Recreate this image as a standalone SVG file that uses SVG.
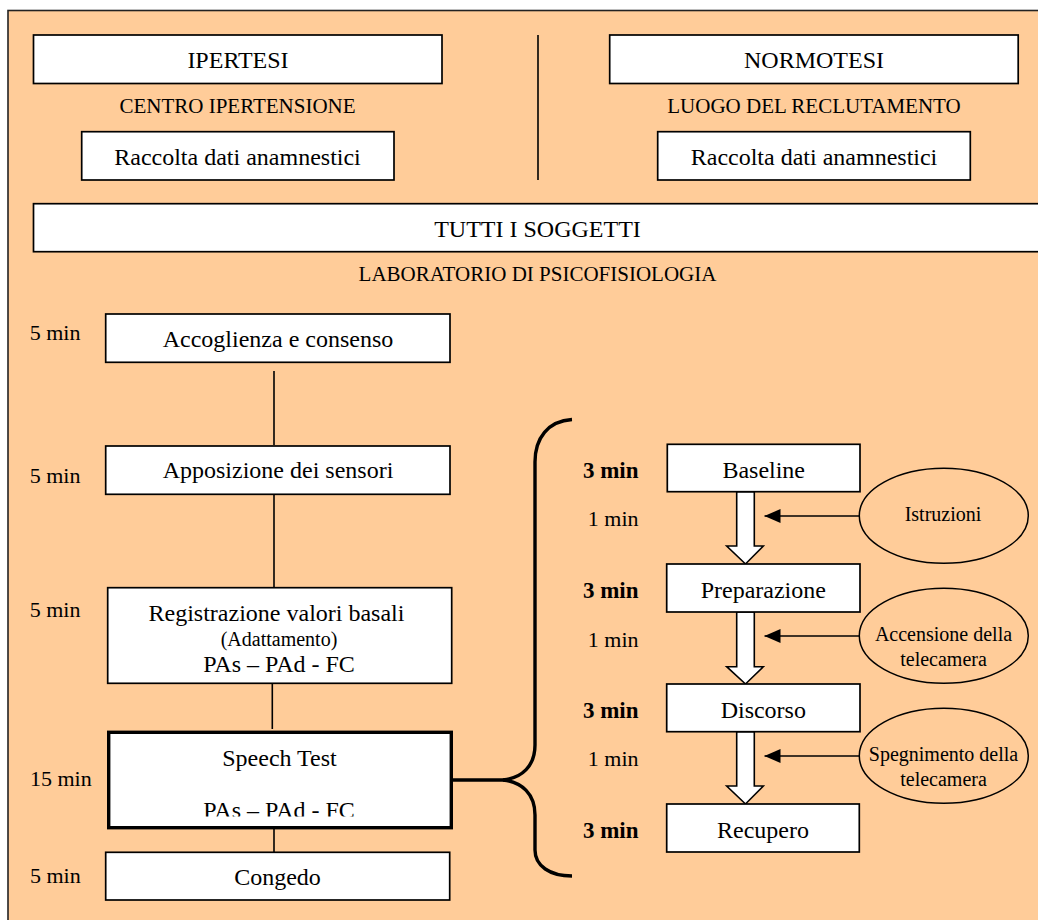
<svg xmlns="http://www.w3.org/2000/svg" width="1038" height="920" viewBox="0 0 1038 920">
  <style>
    text { font-family: "Liberation Serif", "Times New Roman", serif; fill: #000; }
    .t24 { font-size: 24px; text-anchor: middle; }
    .t21 { font-size: 21px; text-anchor: middle; }
    .t20 { font-size: 20px; text-anchor: middle; }
    .min { font-size: 22px; }
    .minr { font-size: 22px; text-anchor: end; }
    .minb { font-size: 23px; font-weight: bold; text-anchor: end; }
    .box { fill: #fff; stroke: #000; stroke-width: 1.7; }
    .thick { fill: #fff; stroke: #000; stroke-width: 3.4; }
    .ell { fill: none; stroke: #000; stroke-width: 1.5; }
    .line { stroke: #000; stroke-width: 1.6; fill: none; }
    .blk { fill: #fff; stroke: #000; stroke-width: 1.6; stroke-linejoin: miter; }
  </style>
  <defs>
    <marker id="tri" viewBox="0 0 16 14" refX="16" refY="7" markerWidth="16" markerHeight="14" markerUnits="userSpaceOnUse" orient="auto">
      <path d="M0,0 L16,7 L0,14 Z" fill="#000"/>
    </marker>
    <clipPath id="speechClip">
      <rect x="110" y="734" width="340" height="82.5"/>
    </clipPath>
  </defs>

  <!-- background panel -->
  <rect x="8" y="10.5" width="1045" height="920" fill="#FFCC99" stroke="#222" stroke-width="1.6"/>

  <!-- upper header -->
  <g id="ipertesi">
    <rect class="box" x="33.5" y="35" width="408.5" height="48.5"/>
    <text class="t24" x="238" y="68">IPERTESI</text>
  </g>
  <text id="centro" class="t21" x="237.5" y="113">CENTRO IPERTENSIONE</text>
  <g id="normotesi">
    <rect class="box" x="609.7" y="35" width="408.5" height="48.5"/>
    <text class="t24" x="814" y="68">NORMOTESI</text>
  </g>
  <text id="luogo" class="t21" x="814" y="113">LUOGO DEL RECLUTAMENTO</text>
  <g id="raccolta-ip">
    <rect class="box" x="81.7" y="131.7" width="312.3" height="48.3"/>
    <text class="t24" x="237.5" y="165">Raccolta dati anamnestici</text>
  </g>
  <g id="raccolta-nm">
    <rect class="box" x="657.7" y="131.7" width="312.6" height="48.3"/>
    <text class="t24" x="814" y="165">Raccolta dati anamnestici</text>
  </g>
  <g id="tutti">
    <rect class="box" x="33.5" y="203.7" width="1020" height="48"/>
    <text class="t24" x="537.5" y="236.5">TUTTI I SOGGETTI</text>
  </g>
  <text id="laboratorio" class="t21" x="537.5" y="281">LABORATORIO DI PSICOFISIOLOGIA</text>

  <!-- connectors -->
  <g id="connectors">
    <line class="line" x1="538" y1="35" x2="538" y2="180"/>
    <line class="line" x1="274" y1="371" x2="274" y2="445"/>
    <line class="line" x1="274" y1="492" x2="274" y2="587"/>
    <line class="line" x1="272.3" y1="680" x2="272.3" y2="729"/>
    <line class="line" x1="274" y1="829" x2="274" y2="852"/>
    <line x1="453" y1="780" x2="505" y2="780" stroke="#000" stroke-width="3.4"/>
    <path d="M572,419.5 C548,421 535,438 535,462 L535,745 C535,766 522,778 503,780 C522,782 535,794 535,815 L535,850 C535,866 550,876 572,876" fill="none" stroke="#000" stroke-width="3.4"/>
    <!-- block arrows between phases -->
    <path class="blk" d="M736.7,491.7 L754.3,491.7 L754.3,546 L763.3,546 L745.5,564 L726.7,546 L736.7,546 Z"/>
    <path class="blk" d="M736.7,612 L754.3,612 L754.3,666.7 L763.3,666.7 L745.5,684 L726.7,666.7 L736.7,666.7 Z"/>
    <path class="blk" d="M736.7,731.7 L754.3,731.7 L754.3,786 L763.3,786 L745.5,804 L726.7,786 L736.7,786 Z"/>
    <!-- event arrows -->
    <line x1="859.5" y1="516" x2="764.5" y2="516" stroke="#000" stroke-width="1.6" marker-end="url(#tri)"/>
    <line x1="859.5" y1="636" x2="764.5" y2="636" stroke="#000" stroke-width="1.6" marker-end="url(#tri)"/>
    <line x1="859.5" y1="756" x2="764.5" y2="756" stroke="#000" stroke-width="1.6" marker-end="url(#tri)"/>
  </g>

  <!-- session timeline -->
  <text class="min" x="29.7" y="340">5 min</text>
  <g id="accoglienza">
    <rect class="box" x="105.7" y="314" width="344.3" height="48.3"/>
    <text class="t24" x="278" y="346.7">Accoglienza e consenso</text>
  </g>
  <text class="min" x="29.7" y="483">5 min</text>
  <g id="apposizione">
    <rect class="box" x="105.7" y="446" width="344.3" height="48.3"/>
    <text class="t24" x="278" y="478">Apposizione dei sensori</text>
  </g>
  <text class="min" x="29.7" y="616.7">5 min</text>
  <g id="registrazione">
    <rect class="box" x="107.7" y="587.7" width="344" height="95.6"/>
    <text class="t24" x="276.5" y="620.7">Registrazione valori basali</text>
    <text class="t20" x="279" y="645.7">(Adattamento)</text>
    <text class="t24" x="279" y="671.7">PAs – PAd - FC</text>
  </g>
  <text class="min" x="30" y="786">15 min</text>
  <g id="speech-test">
    <rect class="thick" x="108.7" y="732.3" width="342.6" height="95.4"/>
    <text class="t24" x="279.5" y="765.7">Speech Test</text>
    <text class="t24" x="279" y="818" clip-path="url(#speechClip)">PAs – PAd - FC</text>
  </g>
  <text class="min" x="30" y="883.3">5 min</text>
  <g id="congedo">
    <rect class="box" x="105.7" y="852.3" width="344" height="47.7"/>
    <text class="t24" x="277.5" y="885">Congedo</text>
  </g>

  <!-- speech test phases -->
  <text class="minb" x="638.5" y="478.3">3 min</text>
  <g id="baseline">
    <rect class="box" x="667.3" y="444.3" width="192.7" height="47.4"/>
    <text class="t24" x="763.7" y="478.3">Baseline</text>
  </g>
  <text class="minr" x="638.5" y="525.7">1 min</text>
  <text class="minb" x="638.5" y="598.3">3 min</text>
  <g id="preparazione">
    <rect class="box" x="666.7" y="564" width="193.3" height="48"/>
    <text class="t24" x="763.3" y="598.3">Preparazione</text>
  </g>
  <text class="minr" x="638.5" y="646.7">1 min</text>
  <text class="minb" x="638.5" y="718.3">3 min</text>
  <g id="discorso">
    <rect class="box" x="666.7" y="684" width="193.3" height="47.7"/>
    <text class="t24" x="763.3" y="718.3">Discorso</text>
  </g>
  <text class="minr" x="638.5" y="765.7">1 min</text>
  <text class="minb" x="638.5" y="838.3">3 min</text>
  <g id="recupero">
    <rect class="box" x="666.7" y="804" width="192.6" height="48"/>
    <text class="t24" x="763" y="838.3">Recupero</text>
  </g>

  <!-- events -->
  <g id="istruzioni">
    <ellipse class="ell" cx="943.8" cy="515.8" rx="84.5" ry="47.5"/>
    <text class="t20" x="943" y="520.7">Istruzioni</text>
  </g>
  <g id="accensione">
    <ellipse class="ell" cx="943.8" cy="635.8" rx="84.5" ry="47.5"/>
    <text class="t20" x="943.5" y="640.7">Accensione della</text>
    <text class="t20" x="943.5" y="666">telecamera</text>
  </g>
  <g id="spegnimento">
    <ellipse class="ell" cx="943.8" cy="755.8" rx="84.5" ry="47.5"/>
    <text class="t20" x="943.5" y="760.7">Spegnimento della</text>
    <text class="t20" x="943.5" y="785.7">telecamera</text>
  </g>
</svg>
